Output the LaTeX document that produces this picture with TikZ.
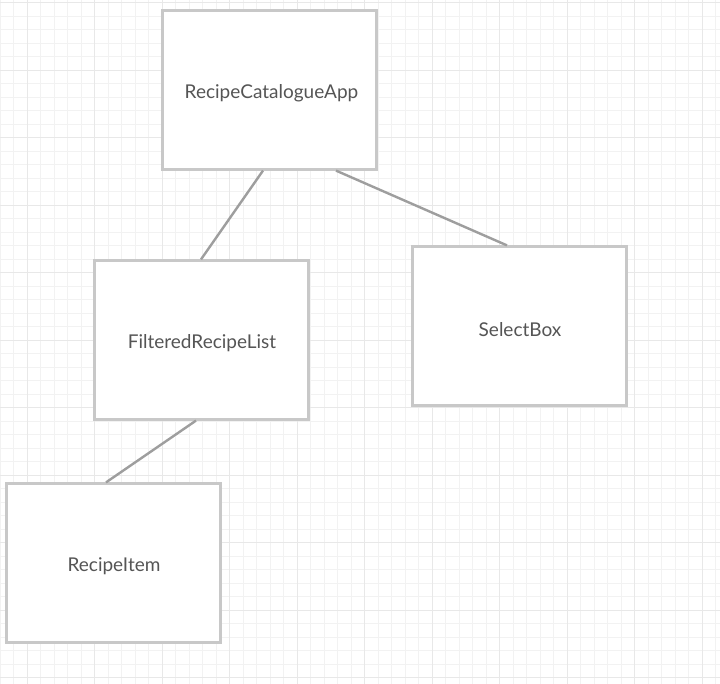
\documentclass[tikz,border=0pt]{standalone}
\usepackage{fontspec}
\setmainfont{Lato}
\definecolor{gridminor}{HTML}{F2F2F2}
\definecolor{gridmajor}{HTML}{E8E8E8}
\definecolor{boxline}{HTML}{C8C8C8}
\definecolor{conn}{HTML}{9E9E9E}
\definecolor{txt}{HTML}{555555}
\begin{document}
\begin{tikzpicture}[x=1pt,y=-1pt,
  comp/.style={draw=boxline,line width=2.2pt,fill=white,minimum width=214pt,minimum height=159pt,inner sep=0pt},
  lbl/.style={text=txt,font=\fontsize{19}{22}\selectfont,inner sep=0pt},
  link/.style={draw=conn,line width=2.4pt}]
\useasboundingbox (0,0) rectangle (720,684);
\fill[white] (0,0) rectangle (720,684);
\foreach \i in {0,...,53} {
  \pgfmathsetmacro\xx{13.5*\i}
  \draw[gridminor,line width=0.9pt] (\xx,0) -- (\xx,684);
}
\foreach \i in {0,...,50} {
  \pgfmathsetmacro\yy{2.7+13.5*\i}
  \draw[gridminor,line width=0.9pt] (0,\yy) -- (720,\yy);
}
\foreach \i in {0,...,10} {
  \pgfmathsetmacro\xx{27+67.5*\i}
  \draw[gridmajor,line width=1pt] (\xx,0) -- (\xx,684);
  \pgfmathsetmacro\yy{2.7+67.5*\i}
  \draw[gridmajor,line width=1pt] (0,\yy) -- (720,\yy);
}
\node[comp] (app) at (269.5,90) {};
\node[comp] (list) at (201.5,340) {};
\node[comp] (sel) at (519.5,326) {};
\node[comp] (item) at (113.5,563) {};
\node[lbl] (appt) at ([xshift=2pt,yshift=-3.5pt]app.center) {RecipeCatalogueApp};
\node[lbl] (listt) at ([xshift=0.5pt,yshift=-3.5pt]list.center) {FilteredRecipeList};
\node[lbl] (selt) at ([xshift=0.5pt,yshift=-3.5pt]sel.center) {SelectBox};
\node[lbl] (itemt) at ([xshift=0.5pt,yshift=-3.5pt]item.center) {RecipeItem};
\coordinate (a1) at ([xshift=-6.5pt]app.south);
\coordinate (l1) at ([xshift=-0.5pt]list.north);
\coordinate (a2) at ([xshift=66.5pt]app.south);
\coordinate (s1) at ([xshift=-12.5pt]sel.north);
\coordinate (l2) at ([xshift=-5.5pt]list.south);
\coordinate (i1) at ([xshift=-7.5pt]item.north);
\draw[link] (a1) -- (l1);
\draw[link] (a2) -- (s1);
\draw[link] (l2) -- (i1);
\end{tikzpicture}
\end{document}
